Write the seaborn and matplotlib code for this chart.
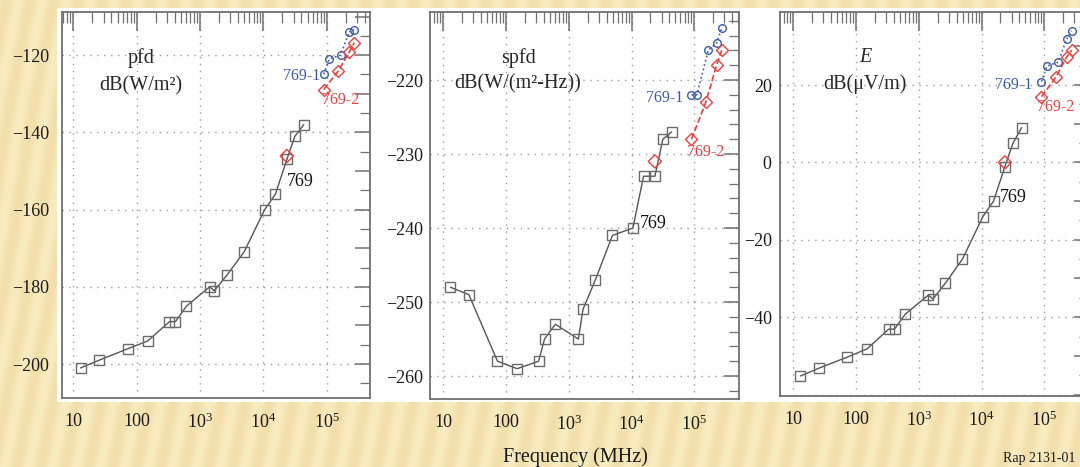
import numpy as np
import pandas as pd
import matplotlib
matplotlib.use("Agg")
import matplotlib.pyplot as plt
from matplotlib.patches import Rectangle
from matplotlib.ticker import FixedLocator, MultipleLocator, LogLocator, FuncFormatter, NullFormatter
import seaborn as sns

# ---------------- data ----------------
freq_769 = [13, 25.5, 73, 150, 330, 410, 610, 1420, 1680, 2650, 4950, 10500, 15500, 23500, 31500, 43500]
freq_769_1 = [90000, 110000, 166000, 226000, 272000]
freq_769_2 = [90000, 152000, 226000, 272000]
freq_single = [23500]

pfd_769 = [-201, -199, -196, -194, -189, -189, -185, -180, -181, -177, -171, -160, -156, -147, -141, -138]
pfd_769_1 = [-124.9, -121.0, -120.0, -114.0, -113.4]
pfd_769_2 = [-128.9, -124.1, -119.3, -116.8]
pfd_single = [-146.1]

spfd_769 = [-248, -249, -258, -259, -258, -255, -253, -255, -251, -247, -241, -240, -233, -233, -228, -227]
spfd_769_1 = [-222, -222, -216, -215, -213]
spfd_769_2 = [-228, -223, -218, -216]
spfd_single = [-231]

e_769 = [-55.2, -53.2, -50.3, -48.2, -43.1, -43.1, -39.2, -34.3, -35.3, -31.2, -25.0, -14.0, -10.0, -1.1, 4.9, 9.0]
e_769_1 = [20.9, 24.9, 25.9, 31.8, 34.0]
e_769_2 = [17.0, 22.0, 27.2, 29.0]
e_single = [0.0]

x_tick_values = [10, 100, 1e3, 1e4, 1e5]
x_tick_labels = ["10", "100", r"$10^3$", r"$10^4$", r"$10^5$"]
xlabel = "Frequency (MHz)"

# ---------------- style ----------------
sns.set_style("white")
plt.rcParams["font.family"] = ["Liberation Serif", "DejaVu Serif"]
plt.rcParams["mathtext.fontset"] = "custom"
plt.rcParams["mathtext.rm"] = "Liberation Serif"
plt.rcParams["mathtext.it"] = "Liberation Serif:italic"

W, H = 1080, 467
fig = plt.figure(figsize=(W / 100, H / 100), dpi=100)

# striped beige background
bg = fig.add_axes([0, 0, 1, 1], zorder=-10)
bg.axis("off")
yy, xx = np.mgrid[0:H, 0:W]
phase = (xx + 0.18 * yy) / 24.0
t = 0.5 + 0.5 * np.sin(2 * np.pi * phase + 0.4 * np.sin(yy / 60.0))
light = np.array([248, 236, 192]) / 255.0
dark = np.array([238, 214, 156]) / 255.0
a = t[..., None] * 0.6
img = light[None, None, :] * (1 - a) + dark[None, None, :] * a
bg.imshow(img, aspect="auto", extent=[0, 1, 0, 1], interpolation="bilinear")
bg.set_xlim(0, 1)
bg.set_ylim(0, 1)

# white page
fig.add_artist(Rectangle((57 / W, 1 - 402 / H), 1.0, (402 - 8) / H, transform=fig.transFigure,
                         facecolor="white", edgecolor="none", zorder=-5))


def fx(px):
    return px / W


def fy(py):
    return 1 - py / H


GRID_C = "#9a9a9a"
SPINE_C = "#707070"
BLACK_C = "#6a6a6a"
BLUE_C = "#3d5aa6"
RED_C = "#e8403f"


def panel(rect, xlim, ylim, ymajor, yminor, ygrid, ylabels, ypad,
          y769, y1, y2, ys):
    ax = fig.add_axes(rect)
    ax.set_facecolor("white")
    ax.set_xscale("log")
    ax.set_xlim(*xlim)
    ax.set_ylim(*ylim)

    # grid lines at labelled values
    for v in x_tick_values:
        ax.axvline(v, color=GRID_C, lw=1.0, ls=(0, (1, 4)), zorder=0)
    for v in ygrid:
        ax.axhline(v, color=GRID_C, lw=1.0, ls=(0, (1, 4)), zorder=0)

    sns.lineplot(x=freq_769, y=y769, ax=ax, estimator=None, sort=False,
                 color="#555555", lw=1.0, marker="s", markersize=6.5,
                 markerfacecolor="none", markeredgecolor=BLACK_C, markeredgewidth=1.0)
    sns.lineplot(x=freq_769_1, y=y1, ax=ax, estimator=None, sort=False,
                 color=BLUE_C, lw=1.2, linestyle=":", marker="o", markersize=5.5,
                 markerfacecolor="none", markeredgecolor=BLUE_C, markeredgewidth=1.0)
    sns.lineplot(x=freq_769_2, y=y2, ax=ax, estimator=None, sort=False,
                 color=RED_C, lw=1.2, linestyle="--", marker="D", markersize=6,
                 markerfacecolor="none", markeredgecolor=RED_C, markeredgewidth=1.0)
    sns.scatterplot(x=freq_single, y=ys, ax=ax, marker="D", s=45,
                    facecolor="none", edgecolor=RED_C, linewidth=1.0, zorder=5)

    ax.xaxis.set_major_locator(FixedLocator(x_tick_values))
    ax.xaxis.set_major_formatter(FuncFormatter(
        lambda v, p: x_tick_labels[x_tick_values.index(v)] if v in x_tick_values else ""))
    ax.xaxis.set_minor_locator(LogLocator(base=10, subs=np.arange(2, 10), numticks=20))
    ax.xaxis.set_minor_formatter(NullFormatter())

    ax.yaxis.set_major_locator(MultipleLocator(ymajor))
    ax.yaxis.set_minor_locator(MultipleLocator(yminor))
    lab = set(ylabels)

    def yfmt(v, p):
        iv = int(round(v))
        if iv not in lab:
            return ""
        return ("\u2212" + str(-iv)) if iv < 0 else str(iv)

    ax.yaxis.set_major_formatter(FuncFormatter(yfmt))

    ax.tick_params(axis="both", which="both", direction="in", top=True, right=True,
                   colors=SPINE_C, labelcolor="#1a1a1a", labelsize=13)
    ax.tick_params(axis="x", which="major", length=14, width=1.1, pad=11)
    ax.tick_params(axis="x", which="minor", length=8, width=0.9)
    ax.tick_params(axis="y", which="major", length=11, width=1.1, pad=ypad)
    ax.tick_params(axis="y", which="minor", length=7, width=0.9)
    for s in ax.spines.values():
        s.set_color(SPINE_C)
        s.set_linewidth(1.3)
    ax.set_xlabel("")
    ax.set_ylabel("")
    return ax


ax1 = panel([fx(61.7), fy(397.7), (370 - 61.7) / W, (397.7 - 12.3) / H],
            (6.56, 4.83e5), (-208.7, -108.9), 10, 5,
            [-120, -140, -160, -180, -200], [-120, -140, -160, -180, -200], 9,
            pfd_769, pfd_769_1, pfd_769_2, pfd_single)
ax2 = panel([fx(430), fy(399), 309.3 / W, (399 - 12.3) / H],
            (6.14, 5.2e5), (-263.1, -210.85), 10, 2,
            [-220, -230, -240, -250, -260], [-220, -230, -240, -250, -260], 5,
            spfd_769, spfd_769_1, spfd_769_2, spfd_single)
ax3 = panel([fx(780), fy(395.7), 309.3 / W, (395.7 - 12.3) / H],
            (6.14, 5.2e5), (-60.3, 38.8), 10, 5,
            [20, 0, -20, -40, -60], [20, 0, -20, -40], 6,
            e_769, e_769_1, e_769_2, e_single)

# panel titles
fig.text(fx(141), fy(58), "pfd", ha="center", va="center", fontsize=14.5)
fig.text(fx(141), fy(86), "dB(W/m²)", ha="center", va="center", fontsize=14.5)
fig.text(fx(518), fy(58), "spfd", ha="center", va="center", fontsize=14.5)
fig.text(fx(518), fy(84), "dB(W/(m²-Hz))", ha="center", va="center", fontsize=14.5)
fig.text(fx(865), fy(58), "E", ha="center", va="center", fontsize=14.5, style="italic")
fig.text(fx(865), fy(84), "dB(μV/m)", ha="center", va="center", fontsize=14.5)

# series labels
for (x1, y1), (x2, y2), (x3, y3) in [((320, 76), (341, 100), (300, 182)),
                                    ((683, 98), (706, 152), (653, 223)),
                                    ((1032, 85), (1056, 107), (1013, 198))]:
    fig.text(fx(x1), fy(y1), "769-1", ha="right", va="center", fontsize=11.5, color=BLUE_C)
    fig.text(fx(x2), fy(y2), "769-2", ha="center", va="center", fontsize=11.5, color=RED_C)
    fig.text(fx(x3), fy(y3), "769", ha="center", va="center", fontsize=13, color="#111111")

fig.text(fx(575), fy(457), xlabel, ha="center", va="center", fontsize=14.5, color="#1a1a1a")
fig.text(fx(1003), fy(465), "Rap 2131-01", ha="left", va="bottom", fontsize=10, color="#1a1a1a")

fig.savefig("out.png", dpi=100)
